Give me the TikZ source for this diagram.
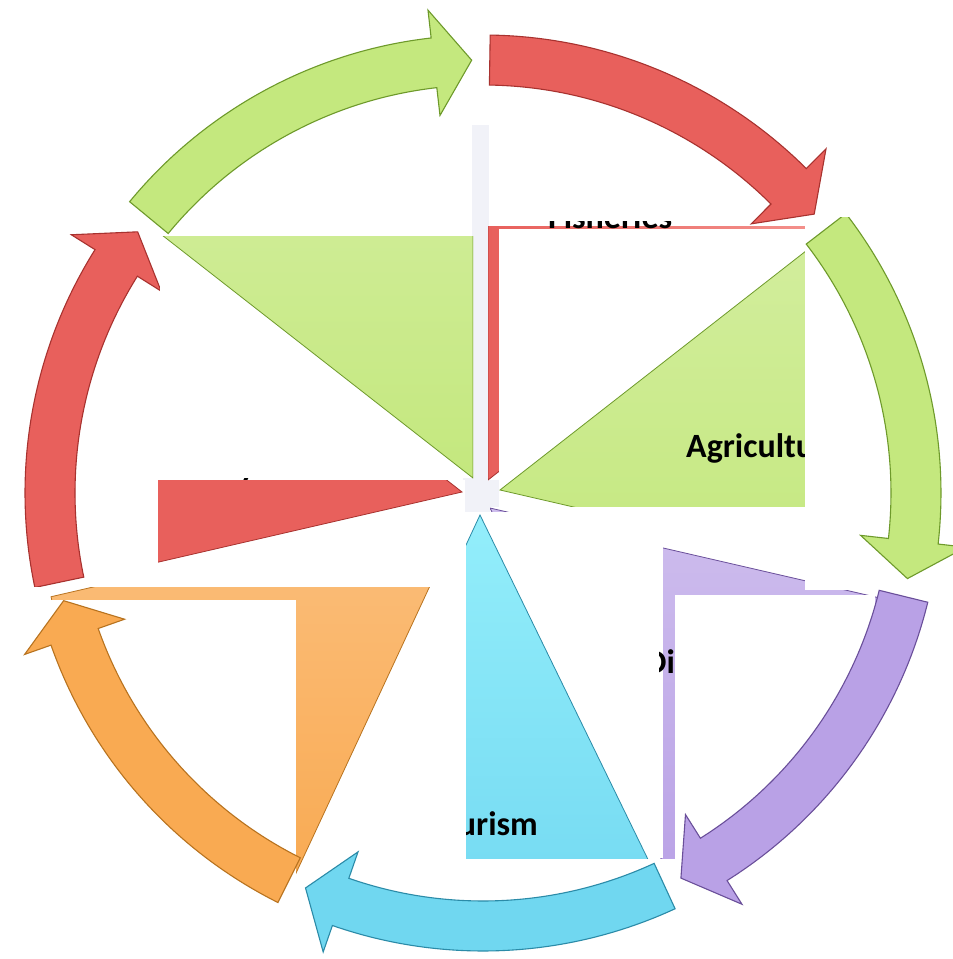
\documentclass[tikz,border=0pt]{standalone}
\usepackage{fontspec}
\newfontfamily\labelfont{Carlito}

\definecolor{leaf}{HTML}{C4E87E}
\definecolor{leafdark}{HTML}{6E9A2B}
\definecolor{coral}{HTML}{E8605C}
\definecolor{coraldark}{HTML}{A8322F}
\definecolor{coralpale}{HTML}{F4938E}
\definecolor{lilac}{HTML}{B9A1E6}
\definecolor{lilacdark}{HTML}{6A4F9A}
\definecolor{sky}{HTML}{70D7F0}
\definecolor{skydark}{HTML}{2B8BA8}
\definecolor{skypale}{HTML}{93EEFB}
\definecolor{amber}{HTML}{F9AA52}
\definecolor{amberdark}{HTML}{B8731F}
\definecolor{ghost}{HTML}{F1F2F8}

% curved block arrow on the ring, #1 = tail angle, #2 = style
\newcommand{\ringarrow}[2]{%
  \filldraw[#2] (#1:458) arc[start angle=#1, end angle=#1+44, radius=458]
    -- (#1+44:486) -- (#1+49:433) -- (#1+44:380) -- (#1+44:408)
    arc[start angle=#1+44, end angle=#1, radius=408] -- cycle;}
% pie slice, #1 = apex, #2/#3 = angles, #4 = style
\newcommand{\pieslice}[4]{%
  \path[#4] (#1) -- ++(#2:430) arc[start angle=#2, end angle=#3, radius=430] -- cycle;}

\begin{document}
\begin{tikzpicture}[x=1pt,y=-1pt,
    arrowbody/.style={draw=#1dark,line width=1.1pt,fill=#1},
    slice/.style 2 args={draw=#1dark,line width=0.8pt,top color=#2,bottom color=#1},
    cover/.style={fill=white},
    lbl/.style={font=\labelfont\bfseries\fontsize{34}{40}\selectfont,inner sep=0pt}
]
\useasboundingbox (0,0) rectangle (953,959);
\fill[white] (0,0) rectangle (953,959);

% faint glow behind the centre
\fill[ghost] (472,125) rectangle (489,478);
\fill[ghost] (463,478) rectangle (500,512);

% arrows lying under the boxes
\begin{scope}[shift={(483,493)}]
  \ringarrow{-140.5}{arrowbody=leaf}
  \ringarrow{168.1}{arrowbody=coral}
  \ringarrow{-89.1}{arrowbody=coral}
\end{scope}

% tail of a hidden label
\begin{scope}
  \clip (230,477) rectangle (262,482);
  \node[lbl,anchor=base west] (ind) at (240,475) {y};
\end{scope}

% upper left green box
\fill[cover] (160,236) rectangle (473,478);
\begin{scope}
  \clip (160,236) rectangle (473,478);
  \pieslice{473,478}{-142}{-90}{slice={leaf}{leaf!70!white}}
\end{scope}

% Fisheries
\fill[cover] (488,226) rectangle (805,480);
\begin{scope}
  \clip (488,226) rectangle (805,480);
  \pieslice{488,480}{-90}{-38}{draw=coraldark,line width=0.8pt,left color=coral,right color=coralpale}
\end{scope}
\begin{scope}
  \clip (540,221) rectangle (680,229);
  \node[lbl,anchor=base west] (fish) at (548,228) {Fisheries};
\end{scope}

% Agriculture
\fill[cover] (499,229) rectangle (805,507);
\begin{scope}
  \clip (499,229) rectangle (805,507);
  \pieslice{500,490}{-38}{13}{slice={leaf}{leaf!75!white}}
  \node[lbl,anchor=base west] (agri) at (686,457) {Agriculture};
\end{scope}

% red box on the left
\fill[cover] (158,480) rectangle (465,587);
\begin{scope}
  \clip (158,480) rectangle (465,587);
  \pieslice{462,492}{167}{218}{draw=coraldark,line width=0.8pt,fill=coral}
\end{scope}

% orange box
\fill[cover] (13,587) rectangle (470,905);
\begin{scope}
  \clip (13,587) rectangle (470,905);
  \pieslice{470,500}{115}{167}{slice={amber}{amber!75!white}}
\end{scope}
\fill[cover] (13,600) rectangle (296,905);

% purple box
\fill[cover] (490,507) rectangle (935,858);
\begin{scope}
  \clip (490,507) rectangle (935,858);
  \pieslice{490,508}{13}{64}{slice={lilac}{lilac!70!white}}
\end{scope}

% Tourism
\fill[cover] (466,512) rectangle (663,858);
\begin{scope}
  \clip (466,512) rectangle (663,858);
  \pieslice{480,515}{64}{115}{slice={sky}{skypale}}
  \node[lbl,anchor=base east] (tour) at (538,835) {Tourism};
\end{scope}

\begin{scope}
  \clip (659,640) rectangle (676,690);
  \node[lbl,anchor=base west] (div) at (645,673) {Di};
\end{scope}
\fill[cover] (675,595) rectangle (875,862);

% right box with its arrow
\fill[cover] (805,217) rectangle (953,590);
\begin{scope}
  \clip (805,217) rectangle (953,590);
  \begin{scope}[shift={(483,493)}]
    \ringarrow{-37.6}{arrowbody=leaf}
  \end{scope}
\end{scope}

% arrows on top
\begin{scope}[shift={(483,493)}]
  \ringarrow{13.8}{arrowbody=lilac}
  \ringarrow{65.2}{arrowbody=sky}
  \ringarrow{116.6}{arrowbody=amber}
\end{scope}

\end{tikzpicture}
\end{document}
